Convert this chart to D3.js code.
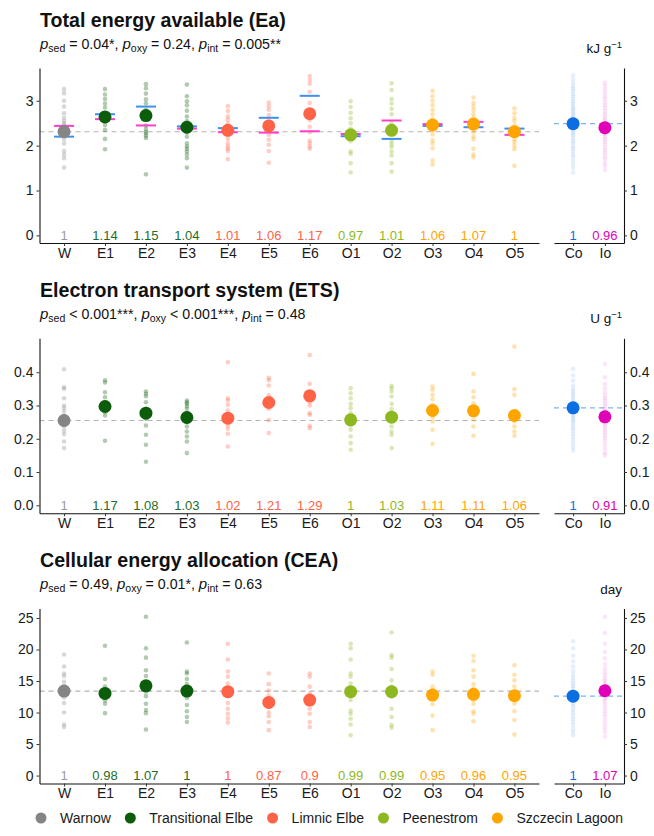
<!DOCTYPE html>
<html>
<head>
<meta charset="utf-8">
<script src="https://cdn.jsdelivr.net/npm/d3@7"></script>
<style>
body { margin: 0; background: #fff; }
svg text { font-family: "Liberation Sans", Arial, Helvetica, sans-serif; }
</style>
</head>
<body>
<div id="chart"></div>
<script>
// sites and groups
const sites = ["W", "E1", "E2", "E3", "E4", "E5", "E6", "O1", "O2", "O3", "O4", "O5"];
const siteGroup = [0, 1, 1, 1, 2, 2, 2, 3, 3, 4, 4, 4];
const groupNames = ["Warnow", "Transitional Elbe", "Limnic Elbe", "Peenestrom", "Szczecin Lagoon"];
const groupColors = ["#858585", "#0b5c0b", "#ff6347", "#8db81f", "#ffa500"];
const ratioColors = ["#9a9a9a", "#1f6e1f", "#ff6347", "#8db81f", "#ffa500"];
const oxyLevels = ["Co", "Io"];
const oxyColors = ["#0b6fe3", "#e000b8"];
const oxyDashColors = ["#3f8ff0", "#ff3dcc"];

// Ea (kJ/g)
const eaMeans = [2.31, 2.64, 2.67, 2.41, 2.34, 2.44, 2.71, 2.24, 2.34, 2.46, 2.48, 2.31];
const eaRatios = ["1", "1.14", "1.15", "1.04", "1.01", "1.06", "1.17", "0.97", "1.01", "1.06", "1.07", "1"];
const eaCoBySite = [2.2, 2.7, 2.87, 2.43, 2.39, 2.62, 3.11, 2.21, 2.15, 2.44, 2.41, 2.38];
const eaIoBySite = [2.44, 2.59, 2.45, 2.38, 2.3, 2.29, 2.32, 2.26, 2.56, 2.48, 2.53, 2.24];
const eaPoints = [
  [3.26, 3.17, 3.0, 2.87, 2.72, 2.62, 2.55, 2.5, 2.45, 2.38, 2.3, 2.25, 2.15, 2.05, 1.88, 1.8, 1.72, 1.51],
  [3.26, 3.14, 3.04, 2.94, 2.85, 2.72, 2.65, 2.6, 2.55, 2.46, 2.35, 2.15, 1.92],
  [3.37, 3.28, 3.16, 3.03, 2.94, 2.8, 2.6, 2.45, 2.37, 2.31, 2.27, 2.22, 2.17, 1.36],
  [3.36, 3.1, 2.99, 2.9, 2.78, 2.65, 2.55, 2.47, 2.4, 2.3, 2.2, 2.05, 1.98, 1.93, 1.87, 1.8, 1.72, 1.51],
  [2.88, 2.77, 2.65, 2.58, 2.5, 2.42, 2.35, 2.25, 2.15, 2.05, 1.98, 1.93, 1.88, 1.7],
  [2.96, 2.88, 2.8, 2.68, 2.55, 2.45, 2.35, 2.24, 2.13, 2.02, 1.88, 1.62],
  [3.55, 3.46, 3.38, 3.2, 2.95, 2.75, 2.57, 2.42, 2.3, 2.11, 2.05, 1.98, 1.93],
  [2.99, 2.86, 2.73, 2.61, 2.5, 2.38, 2.2, 2.1, 1.87, 1.82, 1.61, 1.4],
  [3.39, 3.24, 3.04, 2.94, 2.82, 2.7, 2.5, 2.3, 2.1, 2.03, 1.97, 1.87, 1.78, 1.61, 1.42],
  [3.22, 3.1, 3.0, 2.9, 2.8, 2.7, 2.6, 2.35, 2.25, 2.12, 2.05, 1.94, 1.67, 1.58],
  [3.07, 2.95, 2.87, 2.79, 2.7, 2.62, 2.55, 2.38, 2.3, 2.2, 2.14, 1.93, 1.8, 1.74],
  [2.83, 2.72, 2.62, 2.55, 2.45, 2.38, 2.25, 2.14, 2.08, 2.0, 1.92, 1.55]
];
const eaOxyMeans = [2.49, 2.4];
const eaOxyRatios = ["1", "0.96"];
const eaOxyPoints = [
  [3.57, 3.48, 3.4, 3.33, 3.27, 3.22, 3.15, 3.1, 3.04, 2.98, 2.93, 2.87, 2.82, 2.78, 2.72, 2.68, 2.63, 2.6, 2.55, 2.52, 2.47, 2.44, 2.4, 2.36, 2.31, 2.27, 2.22, 2.16, 2.1, 2.05, 1.98, 1.93, 1.87, 1.8, 1.74, 1.66, 1.58, 1.5, 1.4],
  [3.4, 3.33, 3.25, 3.18, 3.1, 3.04, 2.96, 2.9, 2.84, 2.77, 2.71, 2.65, 2.6, 2.55, 2.5, 2.45, 2.41, 2.37, 2.33, 2.29, 2.25, 2.2, 2.14, 2.08, 2.02, 1.95, 1.89, 1.83, 1.76, 1.7, 1.62, 1.55, 1.46]
];

// ETS (U/g)
const etsMeans = [0.255, 0.297, 0.277, 0.264, 0.262, 0.309, 0.329, 0.257, 0.265, 0.285, 0.284, 0.27];
const etsRatios = ["1", "1.17", "1.08", "1.03", "1.02", "1.21", "1.29", "1", "1.03", "1.11", "1.11", "1.06"];
const etsPoints = [
  [0.409, 0.355, 0.35, 0.322, 0.3, 0.292, 0.282, 0.27, 0.255, 0.25, 0.237, 0.225, 0.214, 0.192, 0.172],
  [0.376, 0.369, 0.34, 0.325, 0.31, 0.29, 0.28, 0.27, 0.194],
  [0.342, 0.335, 0.328, 0.31, 0.29, 0.26, 0.24, 0.212, 0.182, 0.131],
  [0.315, 0.31, 0.305, 0.298, 0.29, 0.277, 0.25, 0.237, 0.222, 0.207, 0.192, 0.157],
  [0.43, 0.322, 0.315, 0.302, 0.285, 0.265, 0.24, 0.23, 0.215, 0.177],
  [0.383, 0.376, 0.36, 0.331, 0.32, 0.29, 0.256, 0.217],
  [0.452, 0.365, 0.34, 0.31, 0.3, 0.277, 0.272, 0.239, 0.232],
  [0.352, 0.337, 0.322, 0.305, 0.292, 0.277, 0.26, 0.252, 0.24, 0.227, 0.207, 0.187, 0.167],
  [0.359, 0.352, 0.342, 0.327, 0.305, 0.289, 0.27, 0.237, 0.222, 0.212, 0.172],
  [0.357, 0.347, 0.332, 0.319, 0.302, 0.28, 0.265, 0.252, 0.227, 0.185],
  [0.395, 0.342, 0.325, 0.307, 0.282, 0.257, 0.237, 0.209],
  [0.477, 0.349, 0.332, 0.282, 0.27, 0.252, 0.237, 0.222, 0.209]
];
const etsOxyMeans = [0.293, 0.266];
const etsOxyRatios = ["1", "0.91"];
const etsOxyPoints = [
  [0.41, 0.39, 0.375, 0.36, 0.35, 0.342, 0.335, 0.328, 0.32, 0.313, 0.306, 0.3, 0.295, 0.29, 0.284, 0.278, 0.272, 0.266, 0.26, 0.254, 0.248, 0.24, 0.232, 0.224, 0.215, 0.206, 0.196, 0.186, 0.175, 0.165],
  [0.425, 0.385, 0.365, 0.352, 0.34, 0.33, 0.322, 0.314, 0.306, 0.298, 0.29, 0.283, 0.276, 0.27, 0.263, 0.256, 0.25, 0.243, 0.236, 0.228, 0.22, 0.212, 0.203, 0.193, 0.182, 0.17, 0.158, 0.15]
];

// CEA (day)
const ceaMeans = [13.4, 13.03, 14.24, 13.4, 13.3, 11.6, 11.97, 13.3, 13.3, 12.77, 12.88, 12.67];
const ceaRatios = ["1", "0.98", "1.07", "1", "1", "0.87", "0.9", "0.99", "0.99", "0.95", "0.96", "0.95"];
const ceaPoints = [
  [19.2, 17.3, 16.2, 15.8, 14.9, 14.2, 13.6, 13.0, 12.4, 11.5, 10.0, 8.1, 7.7],
  [20.6, 15.3, 14.1, 13.4, 12.5, 11.9, 11.4, 9.9],
  [25.2, 20.2, 18.7, 16.7, 15.8, 14.6, 13.3, 12.6, 11.4, 10.4, 9.9, 7.3],
  [21.1, 16.5, 16.2, 15.3, 14.5, 13.8, 12.3, 11.2, 10.2, 9.3, 8.5],
  [20.9, 18.4, 16.5, 15.7, 14.6, 13.9, 12.6, 11.5, 10.6, 9.8, 9.1, 8.4],
  [16.2, 14.5, 13.5, 12.7, 11.9, 10.9, 10.0, 9.4, 8.5, 7.2],
  [16.2, 15.7, 14.1, 13.0, 11.4, 10.6, 9.8, 8.5, 7.7],
  [20.9, 20.2, 18.4, 16.2, 15.7, 14.6, 12.0, 10.3, 9.8, 9.0, 8.1, 6.4],
  [22.7, 19.1, 18.7, 16.9, 15.1, 14.1, 12.5, 10.6, 9.3, 8.0, 7.6],
  [16.5, 16.0, 14.1, 13.5, 12.3, 11.3, 9.5, 7.2],
  [19.0, 18.2, 16.7, 15.7, 14.5, 13.8, 12.0, 11.4, 10.2, 9.8, 8.6],
  [17.5, 16.0, 15.1, 14.1, 13.0, 11.4, 10.2, 8.8, 6.5]
];
const ceaOxyMeans = [12.6, 13.45];
const ceaOxyRatios = ["1", "1.07"];
const ceaOxyPoints = [
  [21.3, 20.2, 19.0, 18.1, 17.3, 16.6, 16.0, 15.5, 15.0, 14.6, 14.2, 13.8, 13.4, 13.0, 12.6, 12.2, 11.8, 11.4, 11.0, 10.5, 10.0, 9.5, 9.0, 8.5, 8.0, 7.4, 6.9, 6.4],
  [25.2, 22.6, 20.9, 19.6, 18.6, 17.7, 17.0, 16.4, 15.9, 15.4, 15.0, 14.6, 14.2, 13.8, 13.4, 13.0, 12.6, 12.2, 11.8, 11.3, 10.8, 10.3, 9.8, 9.3, 8.7, 8.1, 7.5, 6.9, 6.2]
];

const panels = [
  { title: "Total energy available (Ea)", p: [["sed", "= 0.04*"], ["oxy", "= 0.24"], ["int", "= 0.005**"]],
    unit: "kJ g", unitSup: "\u22121", domain: [-0.17, 3.73], ticks: [0, 1, 2, 3], fmt: d3.format("d"),
    means: eaMeans, ratios: eaRatios, points: eaPoints, coBySite: eaCoBySite, ioBySite: eaIoBySite,
    oxyMeans: eaOxyMeans, oxyRatios: eaOxyRatios, oxyPoints: eaOxyPoints },
  { title: "Electron transport system (ETS)", p: [["sed", "< 0.001***"], ["oxy", "< 0.001***"], ["int", "= 0.48"]],
    unit: "U g", unitSup: "\u22121", domain: [-0.024, 0.502], ticks: [0, 0.1, 0.2, 0.3, 0.4], fmt: d3.format(".1f"),
    means: etsMeans, ratios: etsRatios, points: etsPoints,
    oxyMeans: etsOxyMeans, oxyRatios: etsOxyRatios, oxyPoints: etsOxyPoints },
  { title: "Cellular energy allocation (CEA)", p: [["sed", "= 0.49"], ["oxy", "= 0.01*"], ["int", "= 0.63"]],
    unit: "day", unitSup: "", domain: [-1.26, 26.5], ticks: [0, 5, 10, 15, 20, 25], fmt: d3.format("d"),
    means: ceaMeans, ratios: ceaRatios, points: ceaPoints,
    oxyMeans: ceaOxyMeans, oxyRatios: ceaOxyRatios, oxyPoints: ceaOxyPoints }
];

const W = 654, H = 836;
const panelTops = [68, 338.3, 608.5];
const panelH = 175;
const leftX = [39.5, 539], rightX = [554, 624];

const svg = d3.select("#chart").append("svg")
  .attr("width", W)
  .attr("height", H);

const xLeft = d3.scalePoint().domain(sites).range(leftX).padding(0.6);
const xRight = d3.scalePoint().domain(oxyLevels).range(rightX).padding(0.6);

function styleAxis(g) {
  g.attr("font-size", null).attr("font-family", null);
  g.selectAll("path.domain").attr("stroke", "#111").attr("stroke-width", 1.1);
  g.selectAll(".tick line").attr("stroke", "#333");
  g.selectAll(".tick text").attr("fill", "#1a1a1a").style("font-size", "14px");
}

function drawPanel(p, top) {
  const g = svg.append("g");
  const y = d3.scaleLinear().domain(p.domain).range([top + panelH, top]);
  const bottom = top + panelH;

  // title + p values
  g.append("text")
    .attr("x", 40).attr("y", top - 41.5)
    .style("font-size", "19.6px").style("font-weight", "bold")
    .attr("fill", "#111")
    .text(p.title);

  const sub = g.append("text")
    .attr("x", 40).attr("y", top - 19.5)
    .style("font-size", "14.2px").attr("fill", "#111");
  p.p.forEach(function(d, i) {
    sub.append("tspan").style("font-style", "italic").style("font-size", "15px").text("p");
    sub.append("tspan").attr("dy", 3).style("font-size", "10.5px").text(d[0]);
    sub.append("tspan").attr("dy", -3).text(" " + d[1] + (i < 2 ? ", " : ""));
  });

  const unit = g.append("text")
    .attr("x", 622).attr("y", top - 15)
    .attr("text-anchor", "end")
    .style("font-size", "13.5px").attr("fill", "#111");
  unit.append("tspan").text(p.unit);
  if (p.unitSup) {
    unit.append("tspan").attr("dy", -5).style("font-size", "9.5px").text(p.unitSup);
  }

  // reference lines
  g.append("line")
    .attr("x1", leftX[0]).attr("x2", leftX[1])
    .attr("y1", y(p.means[0])).attr("y2", y(p.means[0]))
    .attr("stroke", "#b3b3b3").attr("stroke-width", 1.1).attr("stroke-dasharray", "5,4");
  g.append("line")
    .attr("x1", rightX[0]).attr("x2", rightX[1])
    .attr("y1", y(p.oxyMeans[0])).attr("y2", y(p.oxyMeans[0]))
    .attr("stroke", "#7fb4f2").attr("stroke-width", 1.1).attr("stroke-dasharray", "5,4");

  // individual samples
  sites.forEach(function(s, i) {
    g.selectAll(null)
      .data(p.points[i])
      .enter().append("circle")
      .attr("cx", xLeft(s))
      .attr("cy", d => y(d))
      .attr("r", 2.3)
      .attr("fill", groupColors[siteGroup[i]])
      .attr("fill-opacity", 0.32);
  });
  oxyLevels.forEach(function(o, i) {
    g.selectAll(null)
      .data(p.oxyPoints[i])
      .enter().append("circle")
      .attr("cx", xRight(o))
      .attr("cy", d => y(d))
      .attr("r", 2.3)
      .attr("fill", oxyColors[i])
      .attr("fill-opacity", 0.1);
  });

  // Co / Io means per site (only where interaction matters)
  if (p.coBySite) {
    [p.coBySite, p.ioBySite].forEach(function(arr, k) {
      g.selectAll(null)
        .data(arr)
        .enter().append("line")
        .attr("x1", (d, i) => xLeft(sites[i]) - 10)
        .attr("x2", (d, i) => xLeft(sites[i]) + 10)
        .attr("y1", d => y(d))
        .attr("y2", d => y(d))
        .attr("stroke", oxyDashColors[k])
        .attr("stroke-width", 2);
    });
  }

  // means
  g.selectAll(null)
    .data(p.means)
    .enter().append("circle")
    .attr("cx", (d, i) => xLeft(sites[i]))
    .attr("cy", d => y(d))
    .attr("r", 6.5)
    .attr("fill", (d, i) => groupColors[siteGroup[i]]);
  g.selectAll(null)
    .data(p.oxyMeans)
    .enter().append("circle")
    .attr("cx", (d, i) => xRight(oxyLevels[i]))
    .attr("cy", d => y(d))
    .attr("r", 6.5)
    .attr("fill", (d, i) => oxyColors[i]);

  // ratios to reference
  g.selectAll(null)
    .data(p.ratios)
    .enter().append("text")
    .attr("x", (d, i) => xLeft(sites[i]))
    .attr("y", y(0))
    .attr("dy", "0.35em")
    .attr("text-anchor", "middle")
    .style("font-size", "13px")
    .attr("fill", (d, i) => ratioColors[siteGroup[i]])
    .text(d => d);
  g.selectAll(null)
    .data(p.oxyRatios)
    .enter().append("text")
    .attr("x", (d, i) => xRight(oxyLevels[i]))
    .attr("y", y(0))
    .attr("dy", "0.35em")
    .attr("text-anchor", "middle")
    .style("font-size", "13px")
    .attr("fill", (d, i) => oxyColors[i])
    .text(d => d);

  // axes
  g.append("g")
    .attr("transform", "translate(" + leftX[0] + ",0)")
    .call(d3.axisLeft(y).tickValues(p.ticks).tickFormat(p.fmt).tickSize(3).tickSizeOuter(0).tickPadding(3))
    .call(styleAxis);
  g.append("g")
    .attr("transform", "translate(" + rightX[1] + ",0)")
    .call(d3.axisRight(y).tickValues(p.ticks).tickFormat(p.fmt).tickSize(3).tickSizeOuter(0).tickPadding(3))
    .call(styleAxis);
  g.append("g")
    .attr("transform", "translate(0," + bottom + ")")
    .call(d3.axisBottom(xLeft).tickSize(3).tickSizeOuter(0).tickPadding(2))
    .call(styleAxis);
  g.append("g")
    .attr("transform", "translate(0," + bottom + ")")
    .call(d3.axisBottom(xRight).tickSize(3).tickSizeOuter(0).tickPadding(2))
    .call(styleAxis);
}

panels.forEach(function(p, i) {
  drawPanel(p, panelTops[i]);
});

// legend
const legend = svg.append("g").attr("transform", "translate(0,818)");
let lx = 41;
groupNames.forEach(function(name, i) {
  legend.append("circle")
    .attr("cx", lx).attr("cy", 0).attr("r", 5.5)
    .attr("fill", groupColors[i]);
  const t = legend.append("text")
    .attr("x", lx + 19).attr("y", 0).attr("dy", "0.35em")
    .style("font-size", "14px").attr("fill", "#1a1a1a")
    .text(name);
  lx += 19 + t.node().getComputedTextLength() + 19.5;
});
</script>
</body>
</html>
